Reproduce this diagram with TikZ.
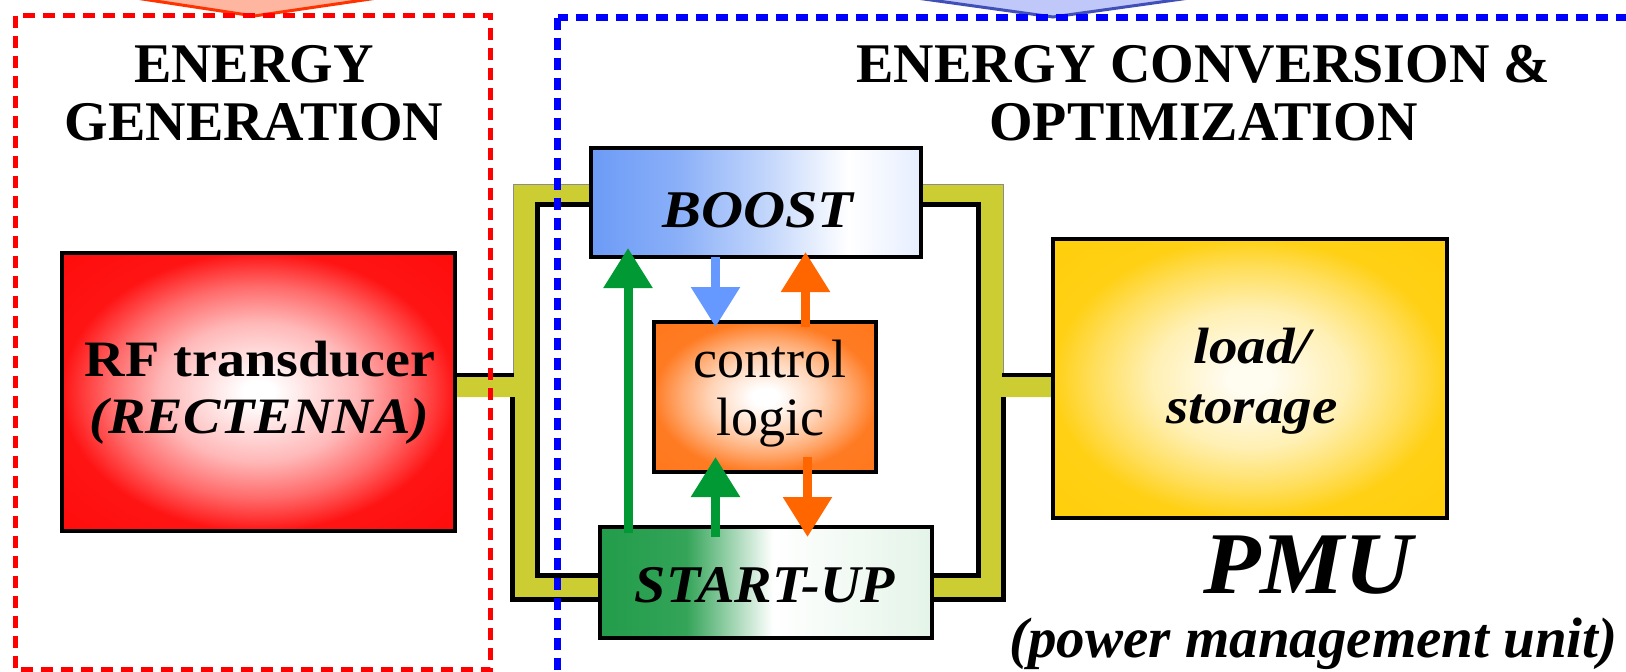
\documentclass[tikz,border=0pt]{standalone}
\usepackage{fontspec}
\setmainfont{Liberation Serif}
\usetikzlibrary{arrows.meta,calc}
\definecolor{busy}{RGB}{204,204,51}
\definecolor{gblk}{RGB}{0,153,51}
\definecolor{bblk}{RGB}{102,153,255}
\definecolor{oblk}{RGB}{255,102,0}
\definecolor{bblue}{RGB}{108,155,246}
\definecolor{bpale}{RGB}{230,238,255}
\definecolor{sgreen}{RGB}{34,156,74}
\definecolor{gpale}{RGB}{228,244,232}
\definecolor{rfred}{RGB}{255,0,0}
\definecolor{ctrlor}{RGB}{255,112,16}
\definecolor{loadgold}{RGB}{255,204,0}
\definecolor{loadin}{RGB}{255,252,240}
\definecolor{salmonc}{RGB}{255,182,160}
\definecolor{redc}{RGB}{255,50,0}
\definecolor{lavc}{RGB}{192,200,250}
\definecolor{navc}{RGB}{64,80,184}
\definecolor{frred}{RGB}{255,0,0}
\definecolor{frblue}{RGB}{0,0,255}
\pgfdeclarehorizontalshading{boostsh}{100bp}{color(0bp)=(bblue); color(25bp)=(bblue); color(38bp)=(bblue!80!white); color(52bp)=(bblue!40!white); color(64bp)=(white); color(75bp)=(bpale); color(100bp)=(bpale)}
\pgfdeclarehorizontalshading{startsh}{100bp}{color(0bp)=(sgreen); color(25bp)=(sgreen); color(38bp)=(sgreen!92!white); color(51bp)=(white); color(75bp)=(gpale); color(100bp)=(gpale)}
\pgfdeclareradialshading{rfsh}{\pgfpoint{0bp}{0bp}}{color(0bp)=(white); color(2bp)=(white); color(12.5bp)=(rfred!28!white); color(19bp)=(rfred!58!white); color(25bp)=(rfred!92!white); color(50bp)=(rfred)}
\pgfdeclareradialshading{ctrlsh}{\pgfpoint{0bp}{0bp}}{color(0bp)=(white); color(3bp)=(white); color(12.5bp)=(ctrlor!30!white); color(19bp)=(ctrlor!60!white); color(25bp)=(ctrlor!92!white); color(50bp)=(ctrlor)}
\pgfdeclareradialshading{loadsh}{\pgfpoint{0bp}{0bp}}{color(0bp)=(loadin); color(3bp)=(loadin); color(12.5bp)=(loadgold!30!white); color(20bp)=(loadgold!65!white); color(25bp)=(loadgold!92!white); color(50bp)=(loadgold)}
\newcommand{\fsz}[1]{\fontsize{#1}{#1}\selectfont}
\begin{document}
\begin{tikzpicture}[x=1pt,y=-1pt,
  box/.style={draw=black, line width=3.5pt, inner sep=0pt, outer sep=0pt},
  txt/.style={anchor=base, inner sep=0pt, outer sep=0pt},
  blkarrow/.style={line width=9pt, line cap=butt, -{Triangle[length=40pt,width=47pt]}},
  busfill/.style={fill=busy, draw=none},
  busline/.style={draw=black, line width=4.5pt, line cap=butt, line join=miter},
  busthin/.style={draw=black!45, line width=1pt},
  frame/.style={line width=6pt, dash pattern=on 12pt off 8pt}
]
\useasboundingbox (0,0) rectangle (1626,672);

% top chevrons
\filldraw[fill=salmonc, draw=redc, line width=3pt, line join=miter] (116,-5) -- (254,16) -- (398,-5) -- cycle;
\filldraw[fill=lavc, draw=navc, line width=3pt, line join=miter] (895,-5) -- (1053,17) -- (1211,-5) -- cycle;

% bus (left)
\fill[busfill] (591,184) -- (513,184) -- (513,377) -- (456,377) -- (456,397) -- (513,397) -- (513,599) -- (600,599) -- (600,577) -- (535,577) -- (535,202) -- (591,202) -- cycle;
\draw[busthin] (513,377) -- (513,184) -- (591,184);
\draw[busline] (591,204.5) -- (537.5,204.5) -- (537.5,575.5) -- (600,575.5);
\draw[busline] (456,375) -- (514,375);
\draw[busline] (512.5,397) -- (512.5,599.5) -- (600,599.5);
% bus (right)
\fill[busfill] (921,184) -- (1003,184) -- (1003,377) -- (1053,377) -- (1053,397) -- (1003,397) -- (1003,599) -- (932,599) -- (932,577) -- (981,577) -- (981,202) -- (921,202) -- cycle;
\draw[busthin] (921,184) -- (1003,184) -- (1003,377);
\draw[busline] (921,204.5) -- (978.5,204.5) -- (978.5,575.5) -- (932,575.5);
\draw[busline] (1002,375) -- (1053,375);
\draw[busline] (1003.5,397) -- (1003.5,599.5) -- (932,599.5);

% dashed frames
\draw[frame, frred, line width=5.5pt] (15.5,15.5) rectangle (490.5,670);
\draw[frame, frblue, line width=7pt] (557.5,17.5) rectangle (1680,700);

% boxes
\node[box, shading=rfsh, minimum width=393pt, minimum height=278pt] (rect) at (258.5,392) {};
\node[box, shading=boostsh, minimum width=330pt, minimum height=109pt] (boost) at (756,202.5) {};
\node[box, shading=ctrlsh, minimum width=222pt, minimum height=150pt] (ctrl) at (765,397) {};
\node[box, shading=startsh, minimum width=332pt, minimum height=111pt] (startup) at (766,582.5) {};
\node[box, shading=loadsh, minimum width=394pt, minimum height=279pt] (load) at (1250,378.5) {};

% arrows
\coordinate (gx) at (628,0);
\coordinate (bx) at (715.5,0);
\coordinate (ox) at (805.5,0);
\coordinate (oy) at (807.5,0);
\draw[blkarrow, gblk] ($(startup.north -| gx)+(0,6)$) -- ($(boost.south -| gx)+(0,-9)$);
\draw[blkarrow, bblk] (boost.south -| bx) -- ($(ctrl.north -| bx)+(0,5)$);
\draw[blkarrow, oblk] ($(ctrl.north -| ox)+(0,5)$) -- ($(boost.south -| ox)+(0,-5)$);
\draw[blkarrow, gblk] ($(startup.north -| bx)+(0,10)$) -- ($(ctrl.south -| bx)+(0,-15)$);
\draw[blkarrow, oblk] ($(ctrl.south -| oy)+(0,-15)$) -- ($(startup.north -| oy)+(0,10)$);

% texts
\node[txt, font=\bfseries\fsz{56}] (tga) at (254,82) {ENERGY};
\node[txt, font=\bfseries\fsz{56}] (tgb) at (254,140) {GENERATION};
\node[txt, font=\bfseries\fsz{56}] (tca) at (1203.5,82) {ENERGY CONVERSION \&};
\node[txt, font=\bfseries\fsz{56}] (tcb) at (1203.5,140) {OPTIMIZATION};
\node[txt, font=\bfseries\fsz{51}] (rfa) at (260,376) {\scalebox{1.1}[1]{RF transducer}};
\node[txt, font=\bfseries\itshape\fsz{51}] (rfb) at (259.5,433) {\scalebox{1.1}[1]{(RECTENNA)}};
\node[txt, font=\bfseries\itshape\fsz{53}] (tboost) at (758,227) {\scalebox{1.1}[1]{BOOST}};
\node[txt, font=\fsz{54}] (tca1) at (770,377) {control};
\node[txt, font=\fsz{54}] (tca2) at (770,435) {logic};
\node[txt, font=\bfseries\itshape\fsz{53}] (tstart) at (765,602) {\scalebox{1.06}[1]{START-UP}};
\node[txt, font=\bfseries\itshape\fsz{51}] (tla) at (1252,363) {\scalebox{1.12}[1]{load/}};
\node[txt, font=\bfseries\itshape\fsz{51}] (tlb) at (1252,423) {\scalebox{1.12}[1]{storage}};
\node[txt, font=\bfseries\itshape\fsz{88}] (tpmu) at (1308,593) {\scalebox{1.07}[1]{PMU}};
\node[txt, font=\bfseries\itshape\fsz{57}] (tpmu2) at (1313.5,657) {(power management unit)};
\end{tikzpicture}
\end{document}
